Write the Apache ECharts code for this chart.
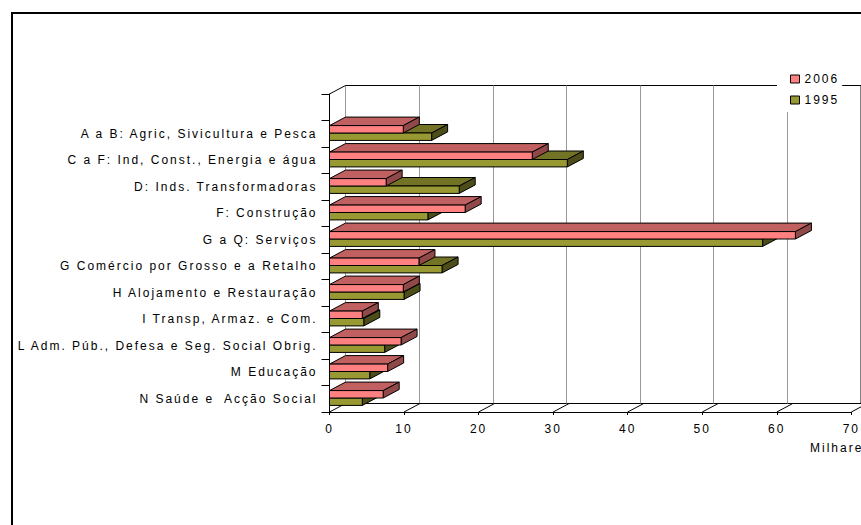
<!DOCTYPE html>
<html>
<head>
<meta charset="utf-8">
<script src="https://cdn.jsdelivr.net/npm/echarts@6/dist/echarts.min.js"></script>
<style>
html,body{margin:0;padding:0;background:#fff;}
#c{width:861px;height:525px;}
#c text{letter-spacing:2px;}
</style>
</head>
<body>
<div id="c"></div>
<script>
const categories = [
  'A a B: Agric, Sivicultura e Pesca',
  'C a F: Ind, Const., Energia e água',
  'D: Inds. Transformadoras',
  'F: Construção',
  'G a Q: Serviços',
  'G Comércio por Grosso e a Retalho',
  'H Alojamento e Restauração',
  'I Transp, Armaz. e Com.',
  'L Adm. Púb., Defesa e Seg. Social Obrig.',
  'M Educação',
  'N Saúde e  Acção Social'
];
const values2006 = [9.9, 27.2, 7.6, 18.2, 62.5, 12.0, 9.9, 4.4, 9.6, 7.8, 7.2];
const values1995 = [13.7, 31.9, 17.4, 13.2, 58.1, 15.1, 10.0, 4.6, 7.4, 5.4, 4.4];
const xTicks = [0, 10, 20, 30, 40, 50, 60, 70];
const seriesNames = ['2006', '1995'];
const axisName = 'Milhares';

const DX = 16, DY = -8.5;
const FONT = 'Liberation Sans, Arial, sans-serif';
const axisCats = [''].concat(categories);

const palette = {
  '2006': {front: '#FF8080', top: '#C06060', side: '#904848'},
  '1995': {front: '#999933', top: '#737326', side: '#4D4D1A'}
};

function barRenderer(name, upper) {
  const col = palette[name];
  return function (params, api) {
    const v = api.value(0);
    const idx = api.value(1);
    const p0 = api.coord([0, idx]);
    const p1 = api.coord([v, idx]);
    const band = api.size([0, 1])[1];
    const h = band * 0.28;
    const cy = p0[1] - 0.75;
    const y0 = upper ? cy - h : cy;
    const x0 = p0[0], x1 = p1[0];
    const st = {stroke: '#000', lineWidth: 1};
    return {
      type: 'group',
      children: [
        {type: 'polygon', shape: {points: [[x0, y0], [x1, y0], [x1 + DX, y0 + DY], [x0 + DX, y0 + DY]]},
          style: Object.assign({fill: col.top}, st)},
        {type: 'polygon', shape: {points: [[x1, y0], [x1 + DX, y0 + DY], [x1 + DX, y0 + DY + h], [x1, y0 + h]]},
          style: Object.assign({fill: col.side}, st)},
        {type: 'rect', shape: {x: x0, y: y0, width: x1 - x0, height: h},
          style: Object.assign({fill: col.front}, st)}
      ]
    };
  };
}

function frameRenderer(params, api) {
  const t = api.value(0);
  const cs = params.coordSys;
  const px = api.coord([t, 0])[0];
  const yb = cs.y + cs.height;
  const children = [
    {type: 'line', shape: {x1: px, y1: yb, x2: px + DX, y2: yb + DY}, style: {stroke: '#000', lineWidth: 1}}
  ];
  if (t === xTicks[0]) {
    children.push({type: 'line', shape: {x1: px, y1: cs.y, x2: px + DX, y2: cs.y + DY}, style: {stroke: '#000', lineWidth: 1}});
  }
  return {type: 'group', children: children};
}

const W = (xTicks[xTicks.length - 1] - xTicks[0]) * 7.52;
const chart = echarts.init(document.getElementById('c'), null, {renderer: 'svg'});
chart.setOption({
  animation: false,
  backgroundColor: '#fff',
  textStyle: {fontFamily: FONT},
  grid: [
    {left: 329.5, top: 94, width: W, height: 318, containLabel: false},
    {left: 329.5 + DX, top: 94 + DY, width: W, height: 318, show: true, borderColor: '#000', borderWidth: 1, backgroundColor: 'transparent'}
  ],
  legend: {
    data: seriesNames,
    orient: 'vertical',
    left: 777, top: 66,
    padding: [6, 11, 5, 13],
    itemWidth: 9, itemHeight: 8, itemGap: 7,
    icon: 'rect',
    backgroundColor: '#fff',
    itemStyle: {borderColor: '#000', borderWidth: 1},
    textStyle: {fontSize: 12, color: '#000', lineHeight: 14, fontFamily: FONT},
    z: 10
  },
  xAxis: [
    {gridIndex: 0, type: 'value', min: xTicks[0], max: xTicks[xTicks.length - 1], interval: 10,
      axisLine: {show: true, lineStyle: {color: '#000', width: 1}},
      axisTick: {show: true, length: 3, lineStyle: {color: '#000'}},
      axisLabel: {show: true, margin: 11, fontSize: 12, color: '#000', fontFamily: FONT},
      splitLine: {show: false}},
    {gridIndex: 1, type: 'value', min: xTicks[0], max: xTicks[xTicks.length - 1], interval: 10,
      axisLine: {show: false}, axisTick: {show: false}, axisLabel: {show: false},
      splitLine: {show: true, lineStyle: {color: '#999', width: 1}}}
  ],
  yAxis: [
    {gridIndex: 0, type: 'category', data: axisCats, inverse: true,
      axisLine: {show: true, lineStyle: {color: '#000', width: 1}},
      axisTick: {show: true, length: 8, lineStyle: {color: '#000'}},
      axisLabel: {show: true, margin: 12, fontSize: 12, color: '#000', fontFamily: FONT},
      splitLine: {show: false}},
    {gridIndex: 1, type: 'value', show: false, splitLine: {show: false}}
  ],
  graphic: [
    {type: 'rect', shape: {x: 12, y: 13, width: 900, height: 600}, style: {fill: 'none', stroke: '#000', lineWidth: 2}, silent: true},
    {type: 'text', left: 810, top: 442, style: {text: axisName, fontSize: 12, fill: '#000', fontFamily: FONT}}
  ],
  series: [
    {name: 'frame', type: 'custom', xAxisIndex: 0, yAxisIndex: 0, silent: true, z: 1,
      data: xTicks.map(t => [t]), encode: {x: 0}, renderItem: frameRenderer},
    {name: '1995', type: 'custom', xAxisIndex: 0, yAxisIndex: 0, z: 3,
      itemStyle: {color: palette['1995'].front},
      data: categories.map((c, i) => [values1995[i], c]), encode: {x: 0, y: 1},
      renderItem: barRenderer('1995', false)},
    {name: '2006', type: 'custom', xAxisIndex: 0, yAxisIndex: 0, z: 4,
      itemStyle: {color: palette['2006'].front},
      data: categories.map((c, i) => [values2006[i], c]), encode: {x: 0, y: 1},
      renderItem: barRenderer('2006', true)}
  ]
});
</script>
</body>
</html>
